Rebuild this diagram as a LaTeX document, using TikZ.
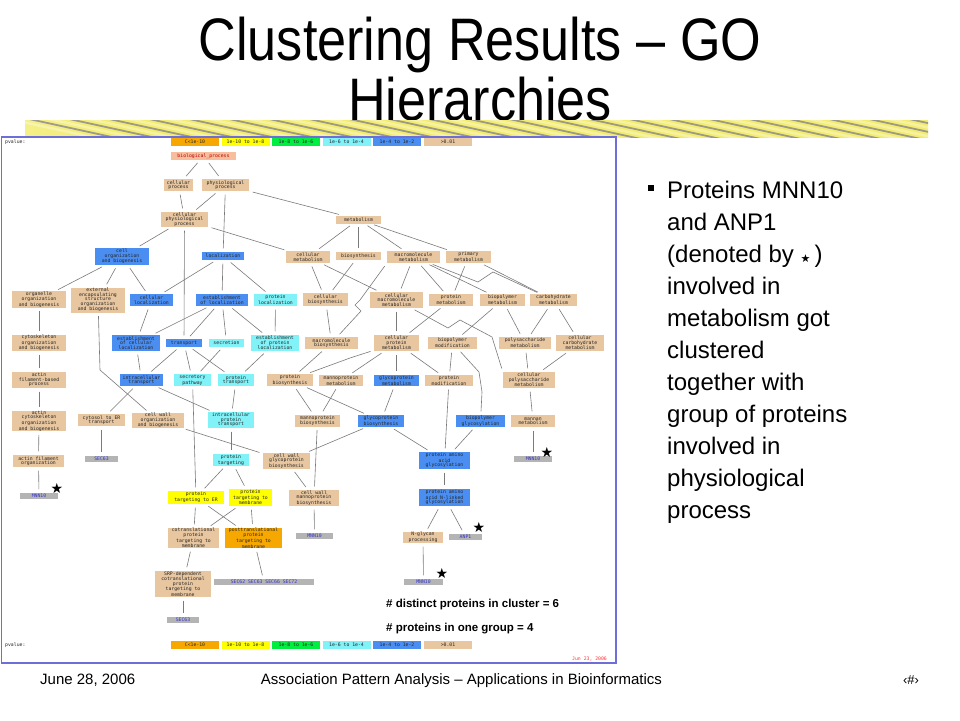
\documentclass[tikz,border=0pt]{standalone}
\usepackage{fontspec}
\setmainfont{Liberation Sans}
\newfontfamily\gmono{DejaVu Sans Mono}
\newfontfamily\dejavu{DejaVu Sans}
\definecolor{tanc}{HTML}{E8C7A0}
\definecolor{bluec}{HTML}{4A8EF2}
\definecolor{cyanc}{HTML}{80F2F8}
\definecolor{yelc}{HTML}{FFFF00}
\definecolor{orc}{HTML}{F7A800}
\definecolor{grnc}{HTML}{00EE40}
\definecolor{greyc}{HTML}{B4B4B4}
\definecolor{salc}{HTML}{F6BE9C}
\definecolor{edgec}{HTML}{7A7A7A}
\definecolor{framec}{HTML}{6E6ED8}
\definecolor{protc}{HTML}{3535C8}
\definecolor{bandb}{HTML}{8C9AE6}
\definecolor{bandy}{HTML}{F2EC70}
\pgfdeclarehorizontalshading{bandshade}{100bp}{color(0bp)=(bandb!50!white); color(18bp)=(bandy!60!white); color(30bp)=(bandy); color(75bp)=(bandy); color(88bp)=(bandb!70!white); color(100bp)=(bandb)}
\tikzset{
 gb/.style={inner sep=0pt, align=center, font=\fontsize{4.8}{4.5}\selectfont\gmono, text=black!85},
 tanb/.style={gb, fill=tanc},
 blueb/.style={gb, fill=bluec},
 cyanb/.style={gb, fill=cyanc},
 yelb/.style={gb, fill=yelc},
 orb/.style={gb, fill=orc},
 salb/.style={gb, fill=salc, text=red!75!black},
 greyb/.style={gb, fill=greyc, text=protc},
 lg/.style={gb, minimum width=48pt, minimum height=8pt},
 ge/.style={draw=edgec, line width=0.6pt, shorten <=3.5pt, shorten >=3.5pt},
 starn/.style={font=\fontsize{14}{14}\selectfont\dejavu, inner sep=0pt},
 bodyt/.style={font=\fontsize{24}{24}\selectfont, anchor=base west, inner sep=0pt},
 foot/.style={font=\fontsize{15}{15}\selectfont, anchor=base, inner sep=0pt},
}
\newcommand\bx[7]{\node[#1, minimum width=#5pt, minimum height=#6pt] (#2) at (#3,#4) {#7};}
\begin{document}
\begin{tikzpicture}[x=1pt,y=-1pt]
\useasboundingbox (0,0) rectangle (960,720);
\fill[white] (0,0) rectangle (960,720);
% title
\node[font=\fontsize{60}{60}\selectfont, anchor=base, inner sep=0pt] (title1) at (480,60) {\scalebox{0.87}[1]{Clustering Results – GO}};
\node[font=\fontsize{60}{60}\selectfont, anchor=base, inner sep=0pt] (title2) at (480,120) {\scalebox{0.87}[1]{Hierarchies}};
% band
\begin{scope}
\clip (25,120) rectangle (928,137);
\shade[shading=bandshade] (25,120) rectangle (928,137);
\foreach \i in {0,...,24} {\draw[white, opacity=0.35, line width=2.5pt] (\i*40, 117) -- ++(110,24);}
\foreach \i in {0,...,24} {\draw[blue!70!black, opacity=0.35, line width=1.8pt] (\i*40+20, 117) -- ++(110,24);}
\end{scope}
% frame
\draw[framec, line width=1.2pt, fill=white] (1.5,137) rectangle (616,663);
% legends
\node[gb, anchor=west] (pv1) at (5,142) {pvalue:};
\node[gb, anchor=west] (pv2) at (5,645) {pvalue:};
\node[lg, fill=orc] (la1) at (195,142) {C<1e-10};
\node[lg, fill=yelc] (la2) at (245.5,142) {1e-10 to 1e-8};
\node[lg, fill=grnc] (la3) at (296,142) {1e-8 to 1e-6};
\node[lg, fill=cyanc] (la4) at (346.5,142) {1e-6 to 1e-4};
\node[lg, fill=bluec] (la5) at (397,142) {1e-4 to 1e-2};
\node[lg, fill=tanc] (la6) at (448,142) {>0.01};
\node[lg, fill=orc] (lb1) at (195,645) {C<1e-10};
\node[lg, fill=yelc] (lb2) at (245.5,645) {1e-10 to 1e-8};
\node[lg, fill=grnc] (lb3) at (296,645) {1e-8 to 1e-6};
\node[lg, fill=cyanc] (lb4) at (346.5,645) {1e-6 to 1e-4};
\node[lg, fill=bluec] (lb5) at (397,645) {1e-4 to 1e-2};
\node[lg, fill=tanc] (lb6) at (448,645) {>0.01};
\node[gb, anchor=west, text=red!80] (date) at (572,659) {Jun 23, 2006};
% nodes
\bx{salb}{bp}{203.5}{156}{65}{8}{biological\_process}
\bx{tanb}{cp}{178.5}{185}{29}{12}{cellular\\process}
\bx{tanb}{pp}{225.5}{185}{47}{12}{physiological\\process}
\bx{tanb}{cpp}{184.5}{219.5}{47}{15}{cellular\\physiological\\process}
\bx{tanb}{met}{358.5}{219.5}{45}{8}{metabolism}
\bx{blueb}{cob}{122}{256.5}{54}{17}{cell\\organization\\and biogenesis}
\bx{blueb}{loc}{223}{256}{42}{8}{localization}
\bx{tanb}{cm}{308}{257}{44}{12}{cellular\\metabolism}
\bx{tanb}{bios}{358.5}{256}{45}{8}{biosynthesis}
\bx{tanb}{mm}{413.5}{257}{53}{12}{macromolecule\\metabolism}
\bx{tanb}{pm}{468.5}{257}{45}{12}{primary\\metabolism}
\bx{tanb}{oob}{39}{299.5}{54}{15}{organelle\\organization\\and biogenesis}
\bx{tanb}{ees}{98}{300}{54}{25}{external\\encapsulating\\structure\\organization\\and biogenesis}
\bx{blueb}{cl}{151.5}{300}{43}{12}{cellular\\localization}
\bx{blueb}{eol}{222}{300}{52}{12}{establishment\\of localization}
\bx{cyanb}{ploc}{275.5}{300}{43}{12}{protein\\localization}
\bx{tanb}{cb}{325.5}{299.5}{45}{13}{cellular\\biosynthesis}
\bx{tanb}{cmm}{396.5}{300}{53}{16}{cellular\\macromolecule\\metabolism}
\bx{tanb}{prm}{451}{300}{44}{12}{protein\\metabolism}
\bx{tanb}{bpm}{502.5}{300}{45}{12}{biopolymer\\metabolism}
\bx{tanb}{chm}{553.5}{300}{47}{12}{carbohydrate\\metabolism}
\bx{tanb}{csob}{39}{343}{54}{16}{cytoskeleton\\organization\\and biogenesis}
\bx{blueb}{ecl}{136}{343}{48}{16}{establishment\\of cellular\\localization}
\bx{blueb}{tr}{184}{343}{36}{8}{transport}
\bx{cyanb}{sec}{226.5}{343}{35}{8}{secretion}
\bx{cyanb}{epl}{275}{343}{48}{16}{establishment\\of protein\\localization}
\bx{tanb}{mb}{331.5}{343}{53}{12}{macromolecule\\biosynthesis}
\bx{tanb}{cpm}{396.5}{343}{45}{16}{cellular\\protein\\metabolism}
\bx{tanb}{bmod}{452.5}{343}{49}{12}{biopolymer\\modification}
\bx{tanb}{psm}{525}{343}{52}{12}{polysaccharide\\metabolism}
\bx{tanb}{ccm}{580}{343}{48}{16}{cellular\\carbohydrate\\metabolism}
\bx{tanb}{afb}{39}{380}{54}{16}{actin\\filament-based\\process}
\bx{blueb}{it}{141.5}{380}{43}{12}{intracellular\\transport}
\bx{cyanb}{sp}{192.5}{380}{37}{12}{secretory\\pathway}
\bx{cyanb}{pt}{236}{380}{36}{12}{protein\\transport}
\bx{tanb}{pb}{290}{380}{46}{12}{protein\\biosynthesis}
\bx{tanb}{mpm}{341}{380.5}{44}{11}{mannoprotein\\metabolism}
\bx{blueb}{gpm}{396.5}{380.5}{45}{11}{glycoprotein\\metabolism}
\bx{tanb}{pmod}{449}{380.5}{48}{11}{protein\\modification}
\bx{tanb}{cpsm}{529}{380}{52}{16}{cellular\\polysaccharide\\metabolism}
\bx{tanb}{acob}{39}{421}{54}{20}{actin\\cytoskeleton\\organization\\and biogenesis}
\bx{tanb}{cte}{101.5}{420}{47}{12}{cytosol to ER\\transport}
\bx{tanb}{cwob}{158}{420.5}{52}{15}{cell wall\\organization\\and biogenesis}
\bx{cyanb}{ipt}{231}{420}{46}{16}{intracellular\\protein\\transport}
\bx{tanb}{mpb}{317.5}{420.5}{45}{12}{mannoprotein\\biosynthesis}
\bx{blueb}{gpb}{381}{421}{46}{12}{glycoprotein\\biosynthesis}
\bx{blueb}{bpg}{480.5}{421}{49}{12}{biopolymer\\glycosylation}
\bx{tanb}{mannan}{533}{421}{44}{12}{mannan\\metabolism}
\bx{tanb}{afo}{38.5}{461}{51}{12}{actin filament\\organization}
\bx{greyb}{seca}{101.5}{459}{33}{6}{SEC63}
\bx{cyanb}{ptg}{231}{460}{36}{12}{protein\\targeting}
\bx{tanb}{cwgb}{286.5}{461}{47}{16}{cell wall\\glycoprotein\\biosynthesis}
\bx{blueb}{paag}{444.5}{460.5}{51}{17}{protein amino\\acid\\glycosylation}
\bx{greyb}{mnr}{533}{459}{38}{6}{MNN10}
\bx{greyb}{mnl}{39}{496}{38}{6}{MNN10}
\bx{yelb}{pter}{196}{497.5}{56}{13}{protein\\targeting to ER}
\bx{yelb}{ptm}{250.5}{497.5}{43}{17}{protein\\targeting to\\membrane}
\bx{tanb}{cwmb}{314}{498}{50}{16}{cell wall\\mannoprotein\\biosynthesis}
\bx{blueb}{paan}{444.5}{497.5}{51}{17}{protein amino\\acid N-linked\\glycosylation}
\bx{tanb}{ctpt}{193.5}{538}{51}{20}{cotranslational\\protein\\targeting to\\membrane}
\bx{orb}{ptpt}{253.5}{538}{57}{20}{posttranslational\\protein\\targeting to\\membrane}
\bx{greyb}{mnm}{314.5}{536}{37}{6}{MNN10}
\bx{tanb}{ngp}{423}{537.5}{40}{11}{N-glycan\\processing}
\bx{greyb}{anp}{465.5}{536.5}{33}{6}{ANP1}
\bx{tanb}{srp}{183}{584}{56}{26}{SRP-dependent\\cotranslational\\protein\\targeting to\\membrane}
\bx{greyb}{secs}{264}{582}{100}{6}{SEC62 SEC63 SEC66 SEC72}
\bx{greyb}{mnb}{423.5}{582}{39}{6}{MNN10}
\bx{greyb}{secb}{183}{619.5}{32}{6}{SEC63}
% edges
\foreach \a/\b in {bp/cp, bp/pp, cp/cpp, pp/cpp, pp/met, pp/loc, cpp/cob, cpp/tr, cpp/cm,
 met/cm, met/bios, met/mm, met/pm, cob/oob, cob/ees, cob/cl, loc/cl, loc/eol, loc/ploc,
 cm/cb, cm/cmm, bios/cb, mm/cmm, mm/prm, mm/bpm, pm/prm, pm/chm, cb/mb,
 oob/csob, csob/afb, afb/acob, acob/afo, afo/mnl,
 cl/ecl, eol/ecl, eol/tr, eol/sec, eol/epl, ploc/epl,
 cmm/cpm, prm/cpm, bpm/bmod, bpm/psm, chm/psm, chm/ccm,
 ecl/it, tr/it, tr/sp, tr/pt, sec/sp, epl/pt,
 mb/pb, cpm/mpm, cpm/gpm, cpm/pmod, bmod/pmod, psm/cpsm, ccm/cpsm,
 it/cte, it/ipt, pt/ipt, sp/pter,
 pb/mpb, mpm/mpb, pb/gpb, gpm/gpb, pmod/paag, bpg/paag, gpb/paag, gpb/cwgb, mpb/cwmb, cwob/cwgb, cwgb/cwmb,
 cpsm/mannan, mannan/mnr, cte/seca, ipt/ptg, ptg/pter, ptg/ptm, pter/ctpt, pter/ptpt, ptm/ctpt, ptm/ptpt,
 cwmb/mnm, paag/paan, paan/ngp, paan/anp, ngp/mnb, ctpt/srp, ptpt/secs, srp/secb}
 {\draw[ge] (\a) -- (\b);}
\draw[ge] (mm) -- (478,282) -- (493,272) -- (chm);
\draw[ge] (mm.south west) -- (360,300) -- (355,305) -- (361,311) -- (mb);
\draw[ge] (cmm) -- (448,328) -- (460,320) -- (492,337) -- (cpsm.north west);
\draw[ge] (cpm) -- (350,358) -- (pb);
\draw[ge] (bmod) -- (479,372) -- (482,392) -- (bpg);
\draw[ge] (ees) -- (100,370) -- (cwob);
% stars
\node[starn] (s1) at (57,488) {★};
\node[starn] (s2) at (547,452) {★};
\node[starn] (s3) at (479,527) {★};
\node[starn] (s4) at (442,573) {★};
% bottom notes
\node[font=\fontsize{11.5}{11.5}\selectfont\bfseries, anchor=base west, inner sep=0pt] (n1) at (386,607) {\# distinct proteins in cluster = 6};
\node[font=\fontsize{11.5}{11.5}\selectfont\bfseries, anchor=base west, inner sep=0pt] (n2) at (386,631) {\# proteins in one group = 4};
% right text
\node[fill=black, minimum size=6pt, inner sep=0pt] (bul) at (651,188) {};
\node[bodyt] (t1) at (667,198) {Proteins MNN10};
\node[bodyt] (t2) at (667,230) {and ANP1};
\node[bodyt] (t3) at (667,262) {(denoted by {\fontsize{11}{11}\selectfont\dejavu ★}\,)};
\node[bodyt] (t4) at (667,294) {involved in};
\node[bodyt] (t5) at (667,326) {metabolism got};
\node[bodyt] (t6) at (667,358) {clustered};
\node[bodyt] (t7) at (667,390) {together with};
\node[bodyt] (t8) at (667,422) {group of proteins};
\node[bodyt] (t9) at (667,454) {involved in};
\node[bodyt] (t10) at (667,486) {physiological};
\node[bodyt] (t11) at (667,518) {process};
% footer
\node[foot, anchor=base west] (f1) at (40,684) {June 28, 2006};
\node[foot] (f2) at (461.5,684) {Association Pattern Analysis – Applications in Bioinformatics};
\node[foot, font=\fontsize{13}{13}\selectfont] (f3) at (911,684) {‹\#›};
\end{tikzpicture}
\end{document}
